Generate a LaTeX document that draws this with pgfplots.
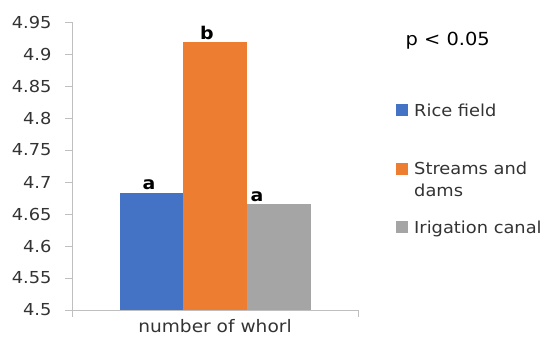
\documentclass[border=0pt]{standalone}
\usepackage{pgfplots}
\pgfplotsset{compat=1.18}
\usepackage{fontspec}
\setmainfont{DejaVu Sans}[FakeStretch=1.08]
\definecolor{c1}{HTML}{4472C4}
\definecolor{c2}{HTML}{ED7D31}
\definecolor{c3}{HTML}{A5A5A5}
\definecolor{axgray}{HTML}{BFBFBF}
\definecolor{txt}{HTML}{333333}
\pgfplotsset{leg/.style={legend image code/.code={\fill[##1,draw=none] (0pt,0pt) rectangle (12pt,12pt);}}}
\begin{document}
\begin{tikzpicture}
\useasboundingbox (0pt,0pt) rectangle (547pt,345pt);
\begin{axis}[
  at={(72pt,35pt)}, anchor=south west,
  scale only axis, width=286pt, height=288pt,
  xmin=72, xmax=358, ymin=4.5, ymax=4.95,
  axis x line*=bottom, axis y line*=left,
  axis line style={axgray, line width=0.8pt},
  ytick={4.5,4.55,...,4.96},
  xtick={72,358}, xticklabels={},
  tick align=outside, major tick length=7pt,
  tick style={axgray, line width=0.8pt},
  yticklabel style={font=\fontsize{16.5}{19}\selectfont, text=txt, xshift=-10pt},
  /pgf/number format/.cd, fixed, precision=2, assume math mode=true, /pgfplots/.cd,
  xlabel={number of whorl},
  xlabel style={at={(axis description cs:0.5,0)}, anchor=base, yshift=-23pt, font=\fontsize{17.2}{20}\selectfont, text=txt},
  legend style={at={(axis cs:396,4.8223)}, anchor=north west, draw=none, fill=none, inner sep=0pt, row sep=44.5pt, column sep=6pt,
    nodes={inner sep=0pt, anchor=base west}, font=\fontsize{16.5}{22}\selectfont, text=txt},
  legend cell align=left,
  clip=false,
]
\addplot[ybar, bar width=63.7, bar shift=0pt, fill=c1, draw=none, leg] coordinates {(151.5,4.683)};
\addlegendentry{Rice field}
\addplot[ybar, bar width=63.7, bar shift=0pt, fill=c2, draw=none, leg] coordinates {(215.2,4.918)};
\addlegendentry{\rule{0pt}{12.5pt}\smash{\begin{tabular}[t]{@{}l@{}}Streams and\\dams\end{tabular}}}
\addplot[ybar, bar width=63.7, bar shift=0pt, fill=c3, draw=none, leg] coordinates {(278.9,4.666)};
\addlegendentry{Irigation canal}
\node[font=\bfseries\fontsize{17.5}{20}\selectfont, anchor=base] at (axis cs:149,4.6875) {a};
\node[font=\bfseries\fontsize{17.5}{20}\selectfont, anchor=base] at (axis cs:207,4.9234) {b};
\node[font=\bfseries\fontsize{17.5}{20}\selectfont, anchor=base] at (axis cs:257,4.6695) {a};
\node[font=\fontsize{18}{22}\selectfont, anchor=base west] at (axis cs:402,4.914) {p < 0.05};
\end{axis}
\end{tikzpicture}
\end{document}
